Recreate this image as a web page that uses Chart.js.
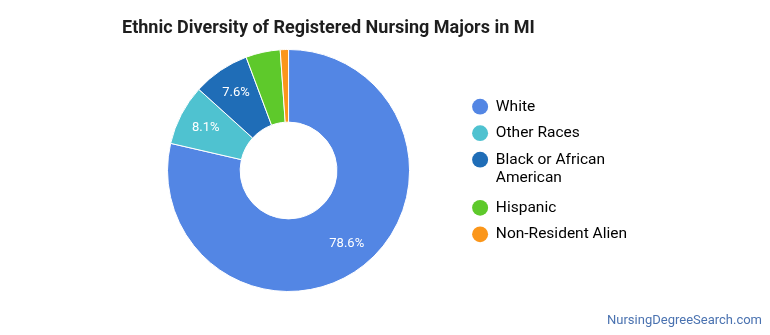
<!DOCTYPE html>
<html>
<head>
<meta charset="utf-8">
<script src="https://cdn.jsdelivr.net/npm/chart.js@4"></script>
<style>
  html, body { margin: 0; padding: 0; background: #fff; }
  #wrap { width: 770px; height: 335px; position: relative; }
</style>
</head>
<body>
<div id="wrap"><canvas id="chart"></canvas></div>
<script>
const chartTitle = 'Ethnic Diversity of Registered Nursing Majors in MI';
const categories = ['White', 'Other Races', 'Black or African American', 'Hispanic', 'Non-Resident Alien'];
const legendLines = [['White'], ['Other Races'], ['Black or African', 'American'], ['Hispanic'], ['Non-Resident Alien']];
const shares = [78.6, 8.1, 7.6, 4.6, 1.1];
const colors = ['#5386e4', '#4fc2d0', '#1f6db7', '#5ec92b', '#fb961a'];
const watermark = 'NursingDegreeSearch.com';

const extras = {
    id: 'extras',
    afterDraw(chart) {
        const ctx = chart.ctx;
        ctx.save();

        // title
        ctx.fillStyle = '#1e1e1e';
        ctx.font = 'bold 18px Roboto';
        ctx.textAlign = 'left';
        ctx.textBaseline = 'middle';
        ctx.fillText(chartTitle, 122, 28);

        // slice labels
        const meta = chart.getDatasetMeta(0);
        ctx.fillStyle = '#fff';
        ctx.font = '13px Roboto';
        ctx.textAlign = 'center';
        meta.data.forEach((arc, i) => {
            if (shares[i] < 5) return;
            const mid = (arc.startAngle + arc.endAngle) / 2;
            const r = arc.innerRadius + (arc.outerRadius - arc.innerRadius) * 0.62;
            ctx.fillText(shares[i].toFixed(1) + '%', arc.x + Math.cos(mid) * r, arc.y + Math.sin(mid) * r);
        });

        // watermark
        ctx.fillStyle = '#4a72b0';
        ctx.font = '13px Roboto';
        ctx.textAlign = 'right';
        ctx.fillText(watermark, 762, 321);
        ctx.restore();
    }
};

new Chart(document.getElementById('chart'), {
    type: 'doughnut',
    data: {
        labels: categories,
        datasets: [{
            data: shares,
            backgroundColor: colors,
            borderColor: '#fff',
            borderWidth: 1
        }]
    },
    options: {
        responsive: true,
        maintainAspectRatio: false,
        animation: false,
        cutout: '40%',
        layout: { padding: { left: 116, right: 133, top: 49, bottom: 43 } },
        plugins: {
            title: { display: false },
            tooltip: { enabled: false },
            legend: {
                position: 'right',
                labels: {
                    usePointStyle: true,
                    pointStyle: 'circle',
                    boxHeight: 11,
                    pointStyleWidth: 16,
                    padding: 11,
                    color: '#333',
                    font: { family: 'Roboto', size: 15.5, lineHeight: 1.2 },
                    generateLabels(chart) {
                        return categories.map((c, i) => ({
                            text: legendLines[i].length > 1 ? legendLines[i] : legendLines[i][0],
                            fillStyle: colors[i],
                            strokeStyle: colors[i],
                            lineWidth: 0,
                            pointStyle: 'circle',
                            hidden: false,
                            index: i
                        }));
                    }
                }
            }
        }
    },
    plugins: [extras]
});
</script>
</body>
</html>
